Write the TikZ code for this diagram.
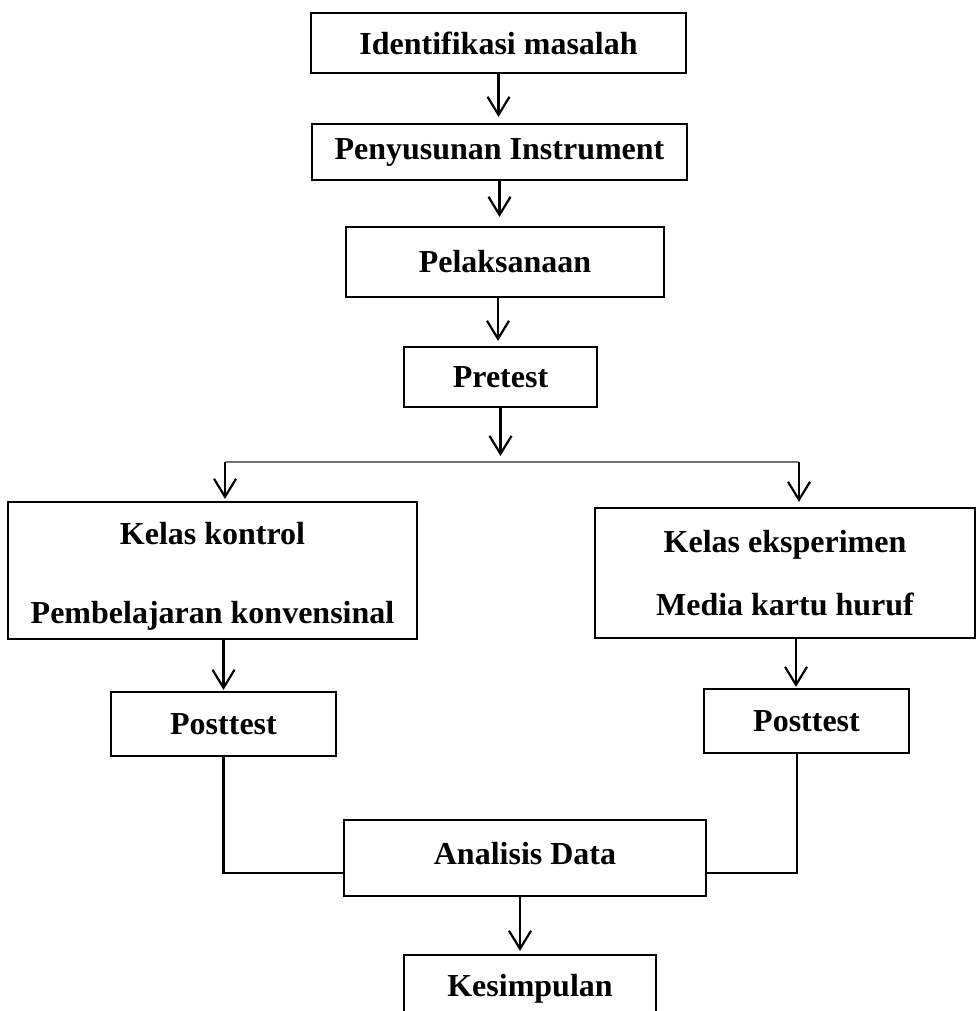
\documentclass[tikz,border=0pt]{standalone}
\usepackage{fontspec}
\setmainfont{Liberation Serif}
\usetikzlibrary{arrows.meta,calc}
\begin{document}
\begin{tikzpicture}[x=1pt,y=-1pt,
  box/.style={draw, line width=2.2pt, inner sep=0pt, align=center,
    font=\fontsize{32}{38}\selectfont\bfseries},
  arr/.style={line width=2.2pt, -{Straight Barb[length=18pt,width=22pt,line width=2.2pt]}, shorten >=6pt},
  conn/.style={line width=2.2pt},
  split/.style={line width=1.6pt, draw=black!55}]
\useasboundingbox (0,0) rectangle (978,1011);
\clip (0,0) rectangle (978,1011);

\node[box, minimum width=375pt, minimum height=60pt] (b1) at (498.5,43) {Identifikasi masalah};
\node[box, minimum width=375pt, minimum height=56pt] (b2) at (499.5,152) {Penyusunan Instrument};
\node[box, minimum width=318pt, minimum height=70pt] (b3) at (505,262) {Pelaksanaan};
\node[box, minimum width=193pt, minimum height=60pt] (b4) at (500.5,377) {Pretest};
\node[box, minimum width=409pt, minimum height=137pt] (kontrol) at (212.5,570.5)
  {\rule{0pt}{34pt}Kelas kontrol\\[41pt]Pembelajaran konvensinal};
\node[box, minimum width=380pt, minimum height=130pt] (eksp) at (785,573)
  {Kelas eksperimen\\[25pt]Media kartu huruf};
\node[box, minimum width=225pt, minimum height=64pt] (post1) at (223.5,724) {Posttest};
\node[box, minimum width=205pt, minimum height=64pt] (post2) at (806.5,721) {Posttest};
\node[box, minimum width=362pt, minimum height=76pt, text depth=10pt] (ana) at (525,858) {Analisis Data};
\node[box, minimum width=252pt, minimum height=68pt] (kes) at (530,989) {Kesimpulan};

\coordinate (ptip) at (500.5,456);
\coordinate (L) at (225,462);
\coordinate (R) at (799,462);

\draw[arr] (b1.south) -- (b1.south |- b2.north);
\draw[arr, shorten >=9pt] (b2.south) -- (b2.south |- b3.north);
\draw[arr, shorten >=5pt] ([xshift=-7pt]b3.south) -- ([xshift=-7pt]b3.south |- b4.north);
\draw[arr, shorten >=0pt] (b4.south) -- (ptip);
\draw[split] (L) -- (R);
\draw[arr, shorten >=2pt] (L) -- (L |- kontrol.north);
\draw[arr, shorten >=5pt] (R) -- (R |- eksp.north);
\draw[arr, shorten >=1pt] (post1.north |- kontrol.south) -- (post1.north);
\draw[arr, shorten >=1pt] ([xshift=11pt]eksp.south) -- ([xshift=11pt]eksp.south |- post2.north);
\draw[conn] (post1.south) |- ([yshift=-15pt]ana.west);
\draw[conn] ([xshift=-9.5pt]post2.south) |- ([yshift=-15pt]ana.east);
\draw[arr, shorten >=3pt] ([xshift=-5pt]ana.south) -- ([xshift=-5pt]ana.south |- kes.north);
\end{tikzpicture}
\end{document}
